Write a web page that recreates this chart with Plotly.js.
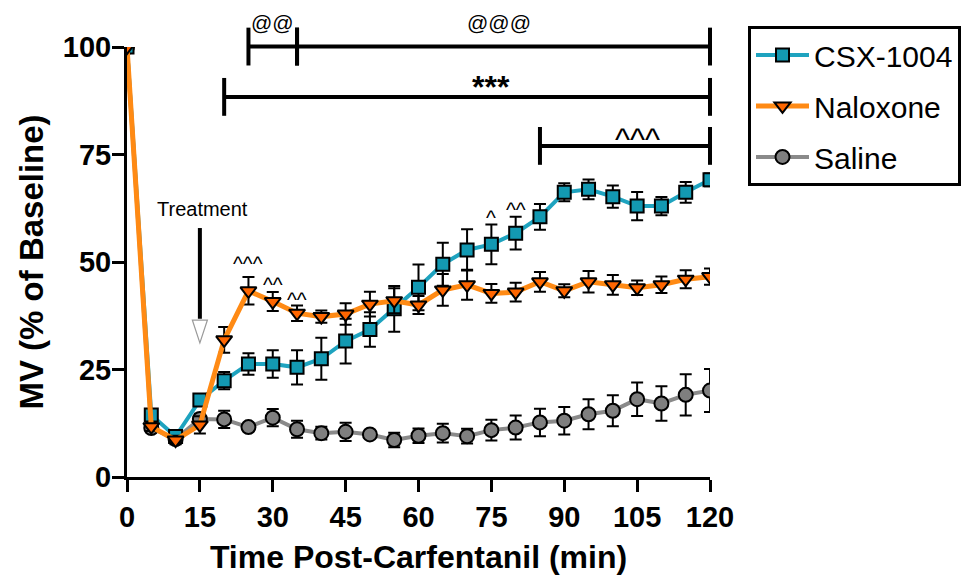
<!DOCTYPE html>
<html>
<head>
<meta charset="utf-8">
<script src="https://cdn.plot.ly/plotly-3.0.1.min.js"></script>
<style>html,body{margin:0;padding:0;background:#fff;}#chart{width:966px;height:578px;}</style>
</head>
<body>
<div id="chart"></div>
<script>
// ---- data ----
const timeMin = [0, 5, 10, 15, 20, 25, 30, 35, 40, 45, 50, 55, 60, 65, 70, 75, 80, 85, 90, 95, 100, 105, 110, 115, 120];

const csxMean = [100, 14.4, 9.4, 17.9, 22.4, 26.3, 26.3, 25.5, 27.5, 31.6, 34.3, 39.1, 44.1, 49.5, 52.8, 54.1, 56.7, 60.5, 66.2, 66.9, 65.2, 63.0, 63.0, 66.2, 69.1];
const csxSem  = [0, 1.2, 1.0, 1.2, 2.0, 2.5, 3.2, 4.0, 4.9, 5.2, 4.0, 5.3, 5.3, 5.0, 4.8, 4.6, 3.8, 3.0, 2.1, 2.3, 2.6, 3.3, 2.1, 2.4, 1.5];

const naloxoneMean = [100, 11.7, 8.6, 12.1, 31.9, 43.3, 40.8, 38.1, 37.3, 37.9, 40.2, 41.0, 40.0, 43.5, 44.7, 42.7, 43.0, 45.4, 43.3, 45.4, 44.7, 44.0, 44.7, 46.0, 46.6];
const naloxoneSem  = [0, 1.0, 1.0, 2.0, 3.0, 3.2, 2.2, 1.8, 1.4, 2.5, 2.9, 2.9, 2.1, 3.7, 3.5, 2.2, 2.2, 2.3, 1.5, 2.5, 2.3, 1.7, 1.9, 2.1, 1.9];

const salineMean = [100, 11.4, 8.8, 13.5, 13.4, 11.6, 13.8, 11.1, 10.2, 10.5, 9.9, 8.6, 9.6, 10.2, 9.5, 10.9, 11.5, 12.7, 13.1, 14.6, 15.4, 18.1, 17.1, 19.1, 20.1];
const salineSem  = [0, 0.8, 0.8, 1.2, 2.0, 0.6, 2.0, 2.0, 1.5, 2.1, 0.8, 1.7, 1.7, 2.2, 1.7, 2.4, 2.8, 3.2, 3.2, 3.5, 3.6, 3.9, 4.0, 4.8, 5.0];

const seriesNames = ["CSX-1004", "Naloxone", "Saline"];
const xTicks = [0, 15, 30, 45, 60, 75, 90, 105, 120];
const yTicks = [0, 25, 50, 75, 100];

// significance brackets (data units) and their label positions
const brackets = [
  {x0: 25, x1: 35, y: 100.1, label: "@@", lx: 30, ly: 105.8},
  {x0: 35, x1: 120, y: 100.1, label: "@@@", lx: 76.5, ly: 105.8},
  {x0: 20, x1: 120, y: 88.4, label: "***", lx: 75, ly: 90.7},
  {x0: 85, x1: 120, y: 77.0, label: "^^^", lx: 105, ly: 78.6}
];
// small caret labels over individual points
const caretLabels = [
  {x: 25, y: 49.6, t: "^^^"},
  {x: 30, y: 44.8, t: "^^"},
  {x: 35, y: 41.3, t: "^^"},
  {x: 75, y: 60.3, t: "^"},
  {x: 80, y: 62.2, t: "^^"}
];
const treatmentTime = 15;

// ---- styling ----
const FONT = "Liberation Sans, Arial, Helvetica, sans-serif";
const XR = [0, 120], YR = [0, 100];
const px = v => (v - XR[0]) / (XR[1] - XR[0]);
const py = v => (v - YR[0]) / (YR[1] - YR[0]);
const tickHalf = 4.4; // bracket end tick half height (data units)

function trace(name, y, err, lineColor, markerColor, symbol, size, lw, rank) {
  return {
    x: timeMin, y: y, name: name, type: "scatter", mode: "lines+markers",
    legendgroup: name, legendrank: rank,
    line: {color: lineColor, width: lw},
    marker: {symbol: symbol, size: size, color: markerColor, line: {color: "#000", width: 2}},
    error_y: {type: "data", array: err, visible: true, color: "#000", thickness: 2, width: 6},
    cliponaxis: true
  };
}

const data = [
  trace(seriesNames[2], salineMean, salineSem, "#8a8a8a", "#7f7f7f", "circle", 14, 4, 3),
  trace(seriesNames[0], csxMean, csxSem, "#1ea3bf", "#1399b2", "square", 13, 4, 1),
  trace(seriesNames[1], naloxoneMean, naloxoneSem, "#ff8a14", "#ff6600", "triangle-down", 14, 5, 2)
];

const shapes = [];
brackets.forEach(b => {
  shapes.push({type: "line", xref: "paper", yref: "paper", x0: px(b.x0), x1: px(b.x1), y0: py(b.y), y1: py(b.y), line: {color: "#000", width: 4}});
  [b.x0, b.x1].forEach(xx => shapes.push({type: "line", xref: "paper", yref: "paper", x0: px(xx), x1: px(xx), y0: py(b.y - tickHalf), y1: py(b.y + tickHalf), line: {color: "#000", width: 4}}));
});
// treatment arrow
shapes.push({type: "line", xref: "x", yref: "y", x0: treatmentTime, x1: treatmentTime, y0: 57.9, y1: 36.8, line: {color: "#000", width: 4}});
shapes.push({type: "path", xref: "x", yref: "y", path: `M${treatmentTime - 1.55},36.5 L${treatmentTime + 1.55},36.5 L${treatmentTime},31.2 Z`, fillcolor: "#fff", line: {color: "#9a9a9a", width: 1.2}});

const annotations = [];
brackets.forEach(b => {
  const isStar = b.label === "***";
  const isCaret = b.label.startsWith("^");
  annotations.push({xref: "paper", yref: "paper", x: px(b.lx), y: py(b.ly), text: b.label, showarrow: false,
    xanchor: "center", yanchor: "middle",
    font: {family: FONT, size: isStar ? 32 : (isCaret ? 32 : 21), color: "#000", weight: isStar ? "bold" : "normal"}});
});
caretLabels.forEach(c => annotations.push({xref: "x", yref: "y", x: c.x, y: c.y, text: c.t, showarrow: false,
  xanchor: "center", yanchor: "middle", font: {family: FONT, size: 21, color: "#000"}}));
annotations.push({xref: "x", yref: "y", x: treatmentTime + 0.5, y: 62.3, text: "Treatment", showarrow: false,
  xanchor: "center", yanchor: "middle", font: {family: FONT, size: 20, color: "#000"}});

const axisCommon = {
  showline: true, linecolor: "#000", linewidth: 3, ticks: "outside", ticklen: 12, tickwidth: 3, tickcolor: "#000",
  showgrid: false, zeroline: false, mirror: false, layer: "above traces",
  tickfont: {family: FONT, size: 29, color: "#000", weight: "bold"}
};

const layout = {
  width: 966, height: 578,
  margin: {l: 127, r: 256, t: 47, b: 101, autoexpand: false},
  paper_bgcolor: "#fff", plot_bgcolor: "#fff",
  font: {family: FONT, color: "#000"},
  xaxis: Object.assign({}, axisCommon, {range: XR, tickvals: xTicks, ticktext: xTicks.map(String), automargin: false,
    title: {text: "Time Post-Carfentanil (min)", font: {family: FONT, size: 32, color: "#000", weight: "bold"}, standoff: 14}}),
  yaxis: Object.assign({}, axisCommon, {range: YR, tickvals: yTicks, ticktext: yTicks.map(String), automargin: false,
    ticklabelstandoff: -5,
    title: {text: "MV (% of Baseline)", font: {family: FONT, size: 33, color: "#000", weight: "bold"}, standoff: 10}}),
  showlegend: true,
  legend: {x: (748 - 127) / 583, xanchor: "left", y: 1.049, yanchor: "top",
    bordercolor: "#000", borderwidth: 3, bgcolor: "#fff",
    font: {family: FONT, size: 30, color: "#000"}, tracegroupgap: 9, itemwidth: 53},
  shapes: shapes,
  annotations: annotations
};

Plotly.newPlot("chart", data, layout, {displayModeBar: false, staticPlot: true});
</script>
</body>
</html>
